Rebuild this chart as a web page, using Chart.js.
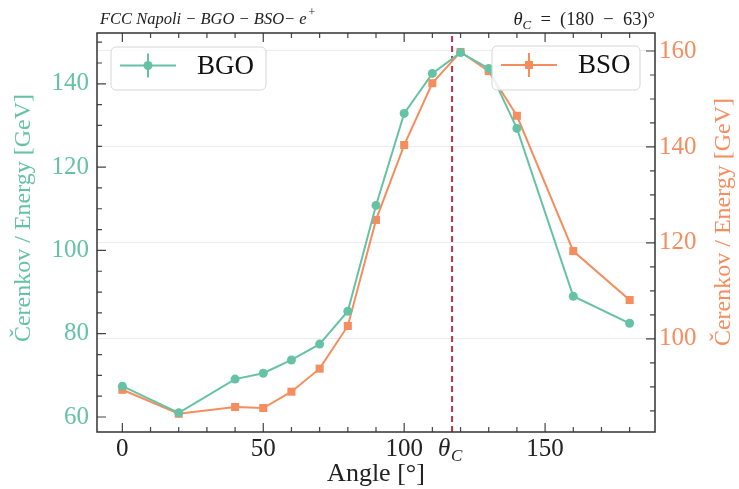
<!DOCTYPE html>
<html>
<head>
<meta charset="utf-8">
<script src="https://cdn.jsdelivr.net/npm/chart.js@4"></script>
<style>
  body { margin: 0; background: #fff; }
  #wrap { width: 739px; height: 489px; }
</style>
</head>
<body>
<div id="wrap"><canvas id="chart" width="739" height="489"></canvas></div>
<script>
// values
var angles = [0, 20, 40, 50, 60, 70, 80, 90, 100, 110, 120, 130, 140, 160, 180];
var bgo = [67.4, 61.0, 69.1, 70.5, 73.7, 77.5, 85.4, 110.8, 132.9, 142.5, 147.5, 143.7, 129.3, 89.0, 82.5];
var bso = [89.4, 84.4, 85.8, 85.6, 89.0, 93.8, 102.7, 124.8, 140.4, 153.3, 159.8, 155.8, 146.5, 118.3, 108.1];
var xTicks = [0, 50, 100, 150];
var leftTicks = [60, 80, 100, 120, 140];
var rightTicks = [100, 120, 140, 160];
var thetaC = 117;

var GREEN = '#66c2a5';
var ORANGE = '#f58d5f';
var SERIF = '"Liberation Serif", "DejaVu Serif", serif';

function pts(ys) {
    var out = [];
    for (var i = 0; i < angles.length; i++) {
        out.push({x: angles[i], y: ys[i]});
    }
    return out;
}

var extras = {
    id: 'extras',
    afterDatasetsDraw: function(chart) {
        var ctx = chart.ctx;
        var a = chart.chartArea;
        var sx = chart.scales.x, sy = chart.scales.y, sy1 = chart.scales.y1;
        ctx.save();

        // tick marks pointing inwards
        ctx.strokeStyle = '#444';
        ctx.lineWidth = 1.2;
        ctx.beginPath();
        for (var v = 0; v <= 180; v += 10) {
            var px = sx.getPixelForValue(v);
            var len = (v % 50 === 0) ? 9 : 5;
            ctx.moveTo(px, a.bottom); ctx.lineTo(px, a.bottom - len);
            ctx.moveTo(px, a.top); ctx.lineTo(px, a.top + len);
        }
        for (var v = 60; v <= 150; v += 5) {
            var py = sy.getPixelForValue(v);
            var len = (v % 20 === 0) ? 9 : 5;
            ctx.moveTo(a.left, py); ctx.lineTo(a.left + len, py);
        }
        for (var v = 85; v <= 160; v += 5) {
            var py = sy1.getPixelForValue(v);
            var len = (v % 20 === 0) ? 9 : 5;
            ctx.moveTo(a.right, py); ctx.lineTo(a.right - len, py);
        }
        ctx.stroke();

        // frame
        ctx.strokeStyle = '#333';
        ctx.lineWidth = 1.5;
        ctx.strokeRect(a.left, a.top, a.right - a.left, a.bottom - a.top);

        // legends
        function legendBox(x, y, w, h, color, style, label) {
            ctx.beginPath();
            ctx.roundRect(x, y, w, h, 5);
            ctx.fillStyle = 'rgba(255,255,255,0.85)';
            ctx.fill();
            ctx.strokeStyle = '#d6d6d6';
            ctx.lineWidth = 1;
            ctx.stroke();
            var my = y + h / 2 - 3;
            ctx.strokeStyle = color;
            ctx.fillStyle = color;
            ctx.lineWidth = 2;
            ctx.beginPath();
            ctx.moveTo(x + 9, my); ctx.lineTo(x + 65, my);
            ctx.moveTo(x + 37, my - 12); ctx.lineTo(x + 37, my + 12);
            ctx.stroke();
            if (style === 'circle') {
                ctx.beginPath(); ctx.arc(x + 37, my, 4.5, 0, Math.PI * 2); ctx.fill();
            } else {
                ctx.fillRect(x + 33, my - 4, 8, 8);
            }
            ctx.fillStyle = '#111';
            ctx.font = '27px ' + SERIF;
            ctx.textBaseline = 'middle';
            ctx.textAlign = 'left';
            ctx.fillText(label, x + 86, my + 1);
        }
        legendBox(111, 47, 155, 43, GREEN, 'circle', 'BGO');
        legendBox(492, 46, 148, 44, ORANGE, 'rect', 'BSO');

        // theta_C label on the x axis
        var tx = sx.getPixelForValue(thetaC);
        ctx.fillStyle = '#222';
        ctx.textBaseline = 'alphabetic';
        ctx.textAlign = 'left';
        ctx.font = 'italic 25px ' + SERIF;
        ctx.fillText('\u03b8', tx - 14, 456);
        ctx.font = 'italic 17px ' + SERIF;
        ctx.fillText('C', tx - 1, 461);

        // top texts
        ctx.fillStyle = '#222';
        ctx.font = 'italic 16.5px ' + SERIF;
        var head = 'FCC Napoli \u2212 BGO \u2212 BSO\u2212 e';
        ctx.fillText(head, 100, 24);
        var w = ctx.measureText(head).width;
        ctx.font = 'italic 12px ' + SERIF;
        ctx.fillText('+', 100 + w + 1, 16);

        ctx.textAlign = 'right';
        ctx.font = '18.5px ' + SERIF;
        var rest = '\u2002=\u2002(180\u2002\u2212\u200263)\u00b0';
        ctx.fillText(rest, 655, 25);
        var rw = ctx.measureText(rest).width;
        ctx.font = 'italic 13px ' + SERIF;
        ctx.fillText('C', 655 - rw, 29);
        var cw = ctx.measureText('C').width;
        ctx.font = 'italic 18.5px ' + SERIF;
        ctx.fillText('\u03b8', 655 - rw - cw, 25);

        // axis titles
        ctx.textAlign = 'center';
        ctx.textBaseline = 'middle';
        ctx.font = '26px ' + SERIF;
        ctx.fillStyle = '#222';
        ctx.fillText('Angle [\u00b0]', (a.left + a.right) / 2, 474);

        ctx.font = '24px ' + SERIF;
        ctx.save();
        ctx.translate(24, 218);
        ctx.rotate(-Math.PI / 2);
        ctx.fillStyle = GREEN;
        ctx.fillText('\u010cerenkov / Energy [GeV]', 0, 0);
        ctx.restore();

        ctx.save();
        ctx.translate(724, 222);
        ctx.rotate(-Math.PI / 2);
        ctx.fillStyle = ORANGE;
        ctx.fillText('\u010cerenkov / Energy [GeV]', 0, 0);
        ctx.restore();

        ctx.restore();
    }
};

var ctx = document.getElementById('chart').getContext('2d');
var chart = new Chart(ctx, {
    type: 'line',
    data: {
        datasets: [{
            label: 'BGO',
            data: pts(bgo),
            yAxisID: 'y',
            borderColor: GREEN,
            backgroundColor: GREEN,
            borderWidth: 2,
            pointStyle: 'circle',
            pointRadius: 4.5,
            pointBorderWidth: 0
        }, {
            label: 'BSO',
            data: pts(bso),
            yAxisID: 'y1',
            borderColor: ORANGE,
            backgroundColor: ORANGE,
            borderWidth: 2,
            pointStyle: 'rect',
            pointRadius: 5.7,
            pointBorderWidth: 0
        }, {
            label: 'thetaC',
            data: [{x: thetaC, y: 56.4}, {x: thetaC, y: 152.2}],
            yAxisID: 'y',
            borderColor: '#c42f45',
            borderWidth: 2,
            borderDash: [6, 4],
            pointRadius: 0
        }]
    },
    options: {
        responsive: false,
        animation: false,
        layout: {padding: {top: 33}},
        plugins: {legend: {display: false}, title: {display: false}, tooltip: {enabled: false}},
        scales: {
            x: {
                type: 'linear',
                min: -9, max: 189,
                grid: {display: false, drawTicks: false},
                border: {display: false},
                afterBuildTicks: function(s) { s.ticks = xTicks.map(function(v) { return {value: v}; }); },
                afterFit: function(s) { s.height = 57; },
                ticks: {color: '#222', padding: 2, font: {family: SERIF, size: 25}, maxRotation: 0}
            },
            y: {
                position: 'left',
                min: 56.4, max: 152.2,
                grid: {display: false, drawTicks: false},
                border: {display: false},
                afterBuildTicks: function(s) { s.ticks = leftTicks.map(function(v) { return {value: v}; }); },
                afterFit: function(s) { s.width = 97; },
                ticks: {color: GREEN, padding: 8, font: {family: SERIF, size: 25}}
            },
            y1: {
                position: 'right',
                min: 80.6, max: 163.75,
                grid: {display: true, drawTicks: false, color: '#ececec', lineWidth: 1},
                border: {display: false},
                afterBuildTicks: function(s) { s.ticks = rightTicks.map(function(v) { return {value: v}; }); },
                afterFit: function(s) { s.width = 84; },
                ticks: {color: ORANGE, padding: 4, font: {family: SERIF, size: 25}}
            }
        }
    },
    plugins: [extras]
});
</script>
</body>
</html>
